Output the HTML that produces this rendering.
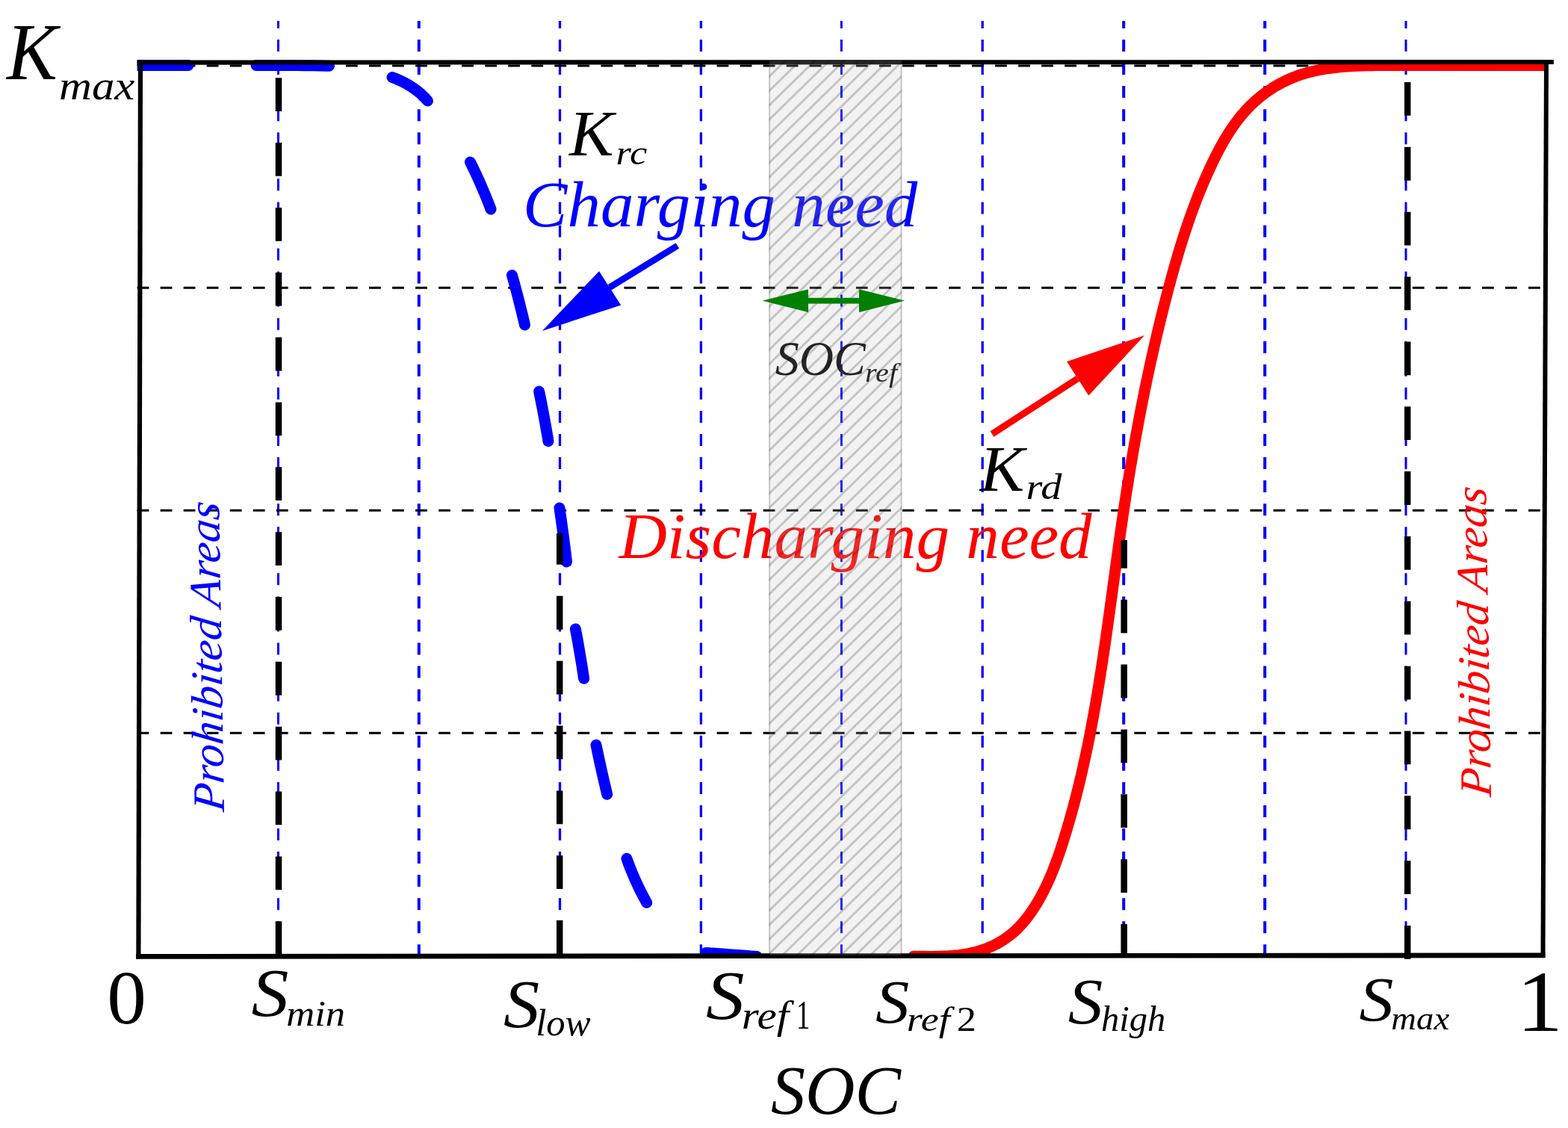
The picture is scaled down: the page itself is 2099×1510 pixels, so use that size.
<!DOCTYPE html>
<html lang="en">
<head>
<meta charset="utf-8">
<title>SOC droop coefficient curves</title>
<style>
html,body{margin:0;padding:0;background:#fff;}
body{width:2099px;height:1510px;overflow:hidden;}
svg{display:block;}
</style>
</head>
<body>
<svg width="2099" height="1510" viewBox="0 0 2099 1510">
<defs>
<clipPath id="plot"><rect x="183.6" y="79.8" width="1886" height="1201.6"/></clipPath>
</defs>
<rect width="2099" height="1510" fill="#fff"/>
<g stroke="#0000ff" stroke-dasharray="16 15.06" stroke-dashoffset="6.1">
<line x1="372.5" y1="28" x2="372.5" y2="1280" stroke-width="3"/>
<line x1="560.8" y1="28" x2="560.8" y2="1280" stroke-width="4"/>
<line x1="749.5" y1="28" x2="749.5" y2="1280" stroke-width="3.3"/>
<line x1="938.4" y1="28" x2="938.4" y2="1280" stroke-width="3.3"/>
<line x1="1126.4" y1="28" x2="1126.4" y2="1280" stroke-width="3"/>
<line x1="1315.2" y1="28" x2="1315.2" y2="1280" stroke-width="3.3"/>
<line x1="1504.2" y1="28" x2="1504.2" y2="1280" stroke-width="4"/>
<line x1="1693.2" y1="28" x2="1693.2" y2="1280" stroke-width="4"/>
<line x1="1882" y1="28" x2="1882" y2="1280" stroke-width="3"/>
</g>
<g stroke="#000" stroke-width="3" stroke-dasharray="15.8 15.24">
<line x1="183.6" y1="87.9" x2="2068" y2="87.9"/>
<line x1="183.6" y1="385.3" x2="2068" y2="385.3"/>
<line x1="183.6" y1="683.3" x2="2068" y2="683.3"/>
<line x1="183.6" y1="981.3" x2="2068" y2="981.3"/>
</g>
<g font-family="'Liberation Serif', 'DejaVu Serif', serif" font-style="italic">
<text transform="translate(700.11,303.41) scale(1.0216,1)" font-size="87.11" fill="#0000ff">Charging need</text>
<text transform="translate(828.39,746.92) scale(1.0359,1)" font-size="86.11" fill="#ff0000">Discharging need</text>
<text transform="translate(1037.66,501.65) scale(0.99,1)" font-size="64.78" fill="#000">SOC</text>
<text transform="translate(1157.89,510.7) scale(1.113,1)" font-size="36.17" fill="#000">ref</text>
</g>
<g clip-path="url(#plot)" fill="none">
<g stroke="#0000ff" stroke-width="15" stroke-linecap="round" stroke-linejoin="round">
<path d="M180 87.5 L188 87.5 L196 87.5 L204 87.5 L212 87.5 L220 87.5 L228 87.5 L236 87.5 L244 87.5 L252 87.5"/>
<path d="M343 87.5 L353.83 87.5 L364.67 87.52 L375.5 87.53 L386.34 87.56 L397.17 87.59 L408 87.66 L418.84 87.82 L429.67 88.05 L440.5 88.3"/>
<path d="M525 103.5 L531.02 105.8 L536.88 108.4 L542.56 111.26 L548.09 114.44 L553.47 117.97 L558.64 121.78 L563.52 125.83 L568.14 130.25 L572.5 135"/>
<path d="M629.5 217 L632.88 223.86 L636.18 230.75 L639.4 237.68 L642.53 244.65 L645.58 251.65 L648.55 258.68 L651.45 265.75 L654.26 272.86 L657 280"/>
<path d="M685.5 368.5 L687.55 375.85 L689.56 383.21 L691.53 390.57 L693.46 397.95 L695.35 405.34 L697.19 412.74 L699 420.15 L700.77 427.57 L702.5 435"/>
<path d="M721.6 524 L723.12 531.38 L724.61 538.78 L726.06 546.17 L727.47 553.58 L728.84 560.99 L730.18 568.41 L731.49 575.83 L732.76 583.26 L734 590.7"/>
<path d="M749 680 L750.15 687.99 L751.28 695.98 L752.39 703.97 L753.47 711.97 L754.52 719.97 L755.55 727.97 L756.56 735.98 L757.54 743.99 L758.5 752"/>
<path d="M770.4 842 L771.77 849.35 L773.11 856.7 L774.42 864.05 L775.69 871.41 L776.93 878.78 L778.15 886.15 L779.33 893.53 L780.48 900.91 L781.6 908.3"/>
<path d="M798 997.3 L799.53 1004.66 L801.08 1012.01 L802.66 1019.35 L804.27 1026.69 L805.9 1034.03 L807.56 1041.35 L809.25 1048.67 L810.96 1055.99 L812.7 1063.3"/>
<path d="M838.9 1149.3 L841.38 1156.09 L843.99 1162.81 L846.72 1169.49 L849.56 1176.1 L852.51 1182.65 L855.61 1189.15 L858.84 1195.59 L862.21 1201.97 L865.7 1208.3"/>
<path d="M945 1275.5 L952.56 1276.03 L960.11 1276.56 L967.67 1277.1 L975.23 1277.65 L982.78 1278.21 L990.34 1278.77 L997.89 1279.34 L1005.45 1279.92 L1013 1280.5"/>
</g>
<path d="M1223 1280.21 L1229.44 1280.27 L1235.99 1280.34 L1242.62 1280.39 L1249.32 1280.38 L1256.06 1280.3 L1262.83 1280.1 L1269.61 1279.78 L1276.37 1279.29 L1283.11 1278.62 L1289.79 1277.72 L1296.41 1276.58 L1302.93 1275.17 L1309.35 1273.48 L1315.65 1271.5 L1321.81 1269.23 L1327.83 1266.67 L1333.68 1263.82 L1339.35 1260.68 L1344.83 1257.23 L1350.11 1253.48 L1355.17 1249.43 L1360 1245.1 L1364.62 1240.49 L1369.04 1235.65 L1373.26 1230.6 L1377.29 1225.36 L1381.14 1219.95 L1384.81 1214.41 L1388.32 1208.75 L1391.67 1202.99 L1394.87 1197.15 L1397.93 1191.23 L1400.85 1185.23 L1403.65 1179.17 L1406.32 1173.04 L1408.89 1166.86 L1411.36 1160.62 L1413.73 1154.34 L1416.01 1148.02 L1418.22 1141.67 L1420.36 1135.3 L1422.44 1128.9 L1424.46 1122.49 L1426.44 1116.07 L1428.37 1109.64 L1430.27 1103.21 L1432.12 1096.78 L1433.94 1090.34 L1435.71 1083.89 L1437.45 1077.44 L1439.16 1070.99 L1440.83 1064.53 L1442.46 1058.06 L1444.06 1051.59 L1445.62 1045.12 L1447.16 1038.64 L1448.66 1032.16 L1450.13 1025.67 L1451.57 1019.18 L1452.98 1012.69 L1454.36 1006.19 L1455.72 999.68 L1457.05 993.18 L1458.35 986.67 L1459.62 980.16 L1460.88 973.64 L1462.1 967.12 L1463.31 960.6 L1464.49 954.07 L1465.66 947.54 L1466.8 941.01 L1467.92 934.47 L1469.02 927.93 L1470.11 921.39 L1471.18 914.85 L1472.23 908.3 L1473.27 901.76 L1474.29 895.21 L1475.29 888.65 L1476.29 882.1 L1477.27 875.54 L1478.24 868.98 L1479.2 862.42 L1480.15 855.86 L1481.09 849.29 L1482.02 842.73 L1482.95 836.16 L1483.86 829.59 L1484.78 823.02 L1485.68 816.45 L1486.59 809.88 L1487.48 803.3 L1488.38 796.73 L1489.28 790.15 L1490.17 783.58 L1491.06 777 L1491.95 770.42 L1492.85 763.85 L1493.75 757.27 L1494.65 750.69 L1495.55 744.11 L1496.46 737.53 L1497.37 730.95 L1498.29 724.37 L1499.22 717.8 L1500.15 711.22 L1501.1 704.64 L1502.05 698.06 L1503.01 691.48 L1503.99 684.91 L1504.97 678.33 L1505.97 671.76 L1506.98 665.18 L1508 658.61 L1509.04 652.04 L1510.09 645.47 L1511.15 638.9 L1512.22 632.33 L1513.31 625.77 L1514.42 619.2 L1515.53 612.64 L1516.66 606.08 L1517.81 599.52 L1518.96 592.97 L1520.14 586.41 L1521.32 579.86 L1522.53 573.32 L1523.74 566.77 L1524.97 560.23 L1526.22 553.69 L1527.48 547.15 L1528.76 540.62 L1530.05 534.09 L1531.36 527.57 L1532.69 521.05 L1534.03 514.53 L1535.39 508.02 L1536.76 501.51 L1538.15 495 L1539.56 488.5 L1540.99 482 L1542.43 475.51 L1543.89 469.02 L1545.36 462.54 L1546.86 456.06 L1548.37 449.59 L1549.9 443.13 L1551.44 436.66 L1553.01 430.21 L1554.59 423.76 L1556.2 417.31 L1557.82 410.87 L1559.46 404.44 L1561.12 398.01 L1562.79 391.59 L1564.49 385.18 L1566.21 378.77 L1567.95 372.37 L1569.71 365.98 L1571.49 359.59 L1573.31 353.22 L1575.15 346.85 L1577.02 340.49 L1578.93 334.15 L1580.87 327.81 L1582.85 321.48 L1584.86 315.17 L1586.92 308.87 L1589.02 302.58 L1591.16 296.31 L1593.35 290.05 L1595.58 283.8 L1597.87 277.57 L1600.21 271.35 L1602.6 265.15 L1605.04 258.97 L1607.54 252.81 L1610.11 246.66 L1612.73 240.53 L1615.42 234.42 L1618.17 228.33 L1620.98 222.26 L1623.87 216.2 L1626.83 210.18 L1629.88 204.19 L1633.01 198.26 L1636.25 192.38 L1639.59 186.57 L1643.05 180.84 L1646.64 175.21 L1650.36 169.68 L1654.23 164.26 L1658.25 158.97 L1662.42 153.81 L1666.77 148.8 L1671.3 143.94 L1676.01 139.26 L1680.91 134.75 L1685.99 130.43 L1691.23 126.3 L1696.63 122.38 L1702.17 118.66 L1707.84 115.17 L1713.62 111.9 L1719.51 108.87 L1725.49 106.08 L1731.54 103.54 L1737.67 101.24 L1743.87 99.18 L1750.12 97.33 L1756.44 95.7 L1762.81 94.25 L1769.23 92.99 L1775.7 91.9 L1782.21 90.97 L1788.77 90.18 L1795.35 89.53 L1801.97 88.99 L1808.61 88.57 L1815.27 88.24 L1821.96 87.99 L1828.65 87.81 L1835.36 87.69 L1842.07 87.62 L1848.79 87.58 L1855.5 87.56 L1862.21 87.56 L1868.9 87.55 L1875.59 87.54 L1882.27 87.54 L1888.95 87.53 L1895.62 87.5 L1902.28 87.5 L1908.94 87.5 L1915.59 87.5 L1922.23 87.5 L1928.88 87.5 L1935.52 87.5 L1942.15 87.5 L1948.79 87.5 L1955.42 87.5 L1962.05 87.5 L1968.68 87.5 L1975.31 87.5 L1981.94 87.5 L1988.57 87.5 L1995.2 87.5 L2001.83 87.5 L2008.46 87.5 L2015.1 87.5 L2021.74 87.5 L2028.39 87.5 L2035.04 87.5 L2041.69 87.5 L2048.35 87.5 L2055.02 87.5 L2061.69 87.5 L2068.37 87.5 L2075.05 87.5" stroke="#ff0000" stroke-width="15" stroke-linejoin="round" stroke-linecap="round"/>
</g>
<g stroke="#000" stroke-width="8.5" stroke-dasharray="44.8 42.05">
<line x1="373" y1="104.2" x2="373" y2="1282"/>
<line x1="749.2" y1="714" x2="749.2" y2="1282" stroke-dashoffset="3"/>
<line x1="1504.7" y1="722.9" x2="1504.7" y2="1282" stroke-dashoffset="7"/>
<line x1="1884.2" y1="110" x2="1884.2" y2="1284.6"/>
</g>
<g stroke="#000">
<line x1="183.6" y1="83.6" x2="2079.9" y2="83" stroke-width="6.1"/>
<line x1="188" y1="80.2" x2="185.4" y2="1283.5" stroke-width="6.2"/>
<line x1="2070" y1="80.5" x2="2065.5" y2="1282" stroke-width="6"/>
<line x1="182.1" y1="1280.4" x2="2068.5" y2="1278.8" stroke-width="6.7"/>
</g>
<g font-family="'Liberation Serif', 'DejaVu Serif', serif" font-style="italic">
<text transform="translate(9.02,105.8) scale(0.944,1)" font-size="107.69" fill="#000">K</text>
<text transform="translate(79.07,132.75) scale(1.0971,1)" font-size="55.42" fill="#000">max</text>
<text transform="translate(762.09,207.5) scale(1.0279,1)" font-size="86.62" fill="#000">K</text>
<text transform="translate(824.6,219.53) scale(1.1196,1)" font-size="46.88" fill="#000">rc</text>
<text transform="translate(1311.69,656.7) scale(1.0222,1)" font-size="87.23" fill="#000">K</text>
<text transform="translate(1373.55,667.81) scale(1.1561,1)" font-size="48.71" fill="#000">rd</text>
<text transform="translate(143.29,1369.78) scale(1.028,1)" font-size="102.37" fill="#000" font-style="normal">0</text>
<text transform="translate(336.5,1360.39) scale(1.093,1)" font-size="91.49" fill="#000">S</text>
<text transform="translate(383.16,1372.5) scale(1.0688,1)" font-size="49.24" fill="#000">min</text>
<text transform="translate(674.04,1375.3) scale(1.0696,1)" font-size="90.15" fill="#000">S</text>
<text transform="translate(717.21,1386.2) scale(1.0145,1)" font-size="50" fill="#000">low</text>
<text transform="translate(944.97,1364.07) scale(1.1148,1)" font-size="92.54" fill="#000">S</text>
<text transform="translate(992.63,1376.98) scale(1.1272,1)" font-size="52.46" fill="#000">ref</text>
<text transform="translate(1065.66,1377) scale(0.6758,1)" font-size="54.96" fill="#000" font-style="normal">1</text>
<text transform="translate(1172.09,1369.16) scale(1.0831,1)" font-size="83.58" fill="#000">S</text>
<text transform="translate(1213.84,1380.13) scale(1.1472,1)" font-size="46.99" fill="#000">ref</text>
<text transform="translate(1280.64,1379.6) scale(1.1324,1)" font-size="46.36" fill="#000" font-style="normal">2</text>
<text transform="translate(1032.08,1491.47) scale(0.9885,1)" font-size="93.13" fill="#000">SOC</text>
<text transform="translate(1429.87,1370.44) scale(1.0824,1)" font-size="85.97" fill="#000">S</text>
<text transform="translate(1474.1,1380.31) scale(1.0205,1)" font-size="47.56" fill="#000">high</text>
<text transform="translate(1819.38,1367.16) scale(1.0948,1)" font-size="84.03" fill="#000">S</text>
<text transform="translate(1862.37,1377.85) scale(1.0366,1)" font-size="45" fill="#000">max</text>
<text transform="translate(2030.37,1380) scale(1.0565,1)" font-size="117.1" fill="#000" font-style="normal">1</text>
<text transform="translate(300,1087.5) rotate(-90.95) scale(1.0206,1) skewX(-7)" font-size="60" fill="#0000ff">Prohibited Areas</text>
<text transform="translate(1996,1067.5) rotate(-90.95) scale(1.0206,1) skewX(-7)" font-size="60" fill="#ff0000">Prohibited Areas</text>
</g>
<line x1="906.9" y1="328.9" x2="816" y2="384.7" stroke="#0000ff" stroke-width="8.7"/>
<polygon points="725.8,442.9 802,363 831.2,408.4" fill="#0000ff"/>
<line x1="1328" y1="581" x2="1442.7" y2="506.8" stroke="#ff0000" stroke-width="9"/>
<polygon points="1532,449 1428.1,484 1457.3,529.6" fill="#ff0000"/>
<clipPath id="band"><rect x="1029.5" y="81.3" width="177.5" height="1197.4"/></clipPath>
<rect x="1029.5" y="81.3" width="177.5" height="1197.4" fill="#bebebe" fill-opacity="0.2"/>
<path clip-path="url(#band)" d="M1025.5 68.12 L1211 -113.67 M1025.5 87.37 L1211 -94.42 M1025.5 106.62 L1211 -75.17 M1025.5 125.87 L1211 -55.92 M1025.5 145.12 L1211 -36.67 M1025.5 164.37 L1211 -17.42 M1025.5 183.62 L1211 1.83 M1025.5 202.87 L1211 21.08 M1025.5 222.12 L1211 40.33 M1025.5 241.37 L1211 59.58 M1025.5 260.62 L1211 78.83 M1025.5 279.87 L1211 98.08 M1025.5 299.12 L1211 117.33 M1025.5 318.37 L1211 136.58 M1025.5 337.62 L1211 155.83 M1025.5 356.87 L1211 175.08 M1025.5 376.12 L1211 194.33 M1025.5 395.37 L1211 213.58 M1025.5 414.62 L1211 232.83 M1025.5 433.87 L1211 252.08 M1025.5 453.12 L1211 271.33 M1025.5 472.37 L1211 290.58 M1025.5 491.62 L1211 309.83 M1025.5 510.87 L1211 329.08 M1025.5 530.12 L1211 348.33 M1025.5 549.37 L1211 367.58 M1025.5 568.62 L1211 386.83 M1025.5 587.87 L1211 406.08 M1025.5 607.12 L1211 425.33 M1025.5 626.37 L1211 444.58 M1025.5 645.62 L1211 463.83 M1025.5 664.87 L1211 483.08 M1025.5 684.12 L1211 502.33 M1025.5 703.37 L1211 521.58 M1025.5 722.62 L1211 540.83 M1025.5 741.87 L1211 560.08 M1025.5 761.12 L1211 579.33 M1025.5 780.37 L1211 598.58 M1025.5 799.62 L1211 617.83 M1025.5 818.87 L1211 637.08 M1025.5 838.12 L1211 656.33 M1025.5 857.37 L1211 675.58 M1025.5 876.62 L1211 694.83 M1025.5 895.87 L1211 714.08 M1025.5 915.12 L1211 733.33 M1025.5 934.37 L1211 752.58 M1025.5 953.62 L1211 771.83 M1025.5 972.87 L1211 791.08 M1025.5 992.12 L1211 810.33 M1025.5 1011.37 L1211 829.58 M1025.5 1030.62 L1211 848.83 M1025.5 1049.87 L1211 868.08 M1025.5 1069.12 L1211 887.33 M1025.5 1088.37 L1211 906.58 M1025.5 1107.62 L1211 925.83 M1025.5 1126.87 L1211 945.08 M1025.5 1146.12 L1211 964.33 M1025.5 1165.37 L1211 983.58 M1025.5 1184.62 L1211 1002.83 M1025.5 1203.87 L1211 1022.08 M1025.5 1223.12 L1211 1041.33 M1025.5 1242.37 L1211 1060.58 M1025.5 1261.62 L1211 1079.83 M1025.5 1280.87 L1211 1099.08 M1025.5 1300.12 L1211 1118.33 M1025.5 1319.37 L1211 1137.58 M1025.5 1338.62 L1211 1156.83 M1025.5 1357.87 L1211 1176.08 M1025.5 1377.12 L1211 1195.33 M1025.5 1396.37 L1211 1214.58 M1025.5 1415.62 L1211 1233.83 M1025.5 1434.87 L1211 1253.08 M1025.5 1454.12 L1211 1272.33 M1025.5 1473.37 L1211 1291.58" fill="none" stroke="#000" stroke-opacity="0.19" stroke-width="3"/>
<path d="M1030.1 87 V1278.7 M1206.6 87 V1278.7" fill="none" stroke="#000" stroke-opacity="0.2" stroke-width="1.9"/>
<line x1="1075" y1="402.6" x2="1155" y2="402.6" stroke="#008000" stroke-width="7.6"/>
<polygon points="1020.5,402.6 1082,387.2 1082,418" fill="#008000"/>
<polygon points="1211.2,402.6 1150,387.2 1150,418" fill="#008000"/>
</svg>
</body>
</html>
